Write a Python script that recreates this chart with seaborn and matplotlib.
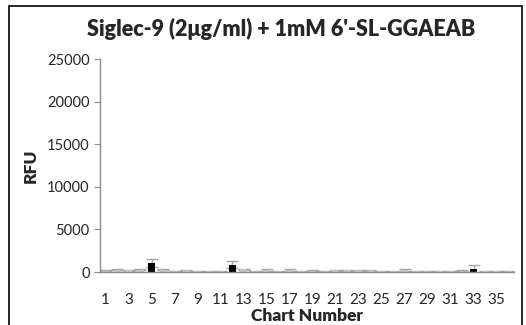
import matplotlib
matplotlib.use("Agg")
import matplotlib.pyplot as plt
import seaborn as sns
import pandas as pd
import numpy as np
from matplotlib.patches import Rectangle

chart_numbers = list(range(1, 37))
rfu = [150, 250, 200, 250, 1050, 250, 100, 200, 100, 100, 100, 850,
       300, 100, 200, 100, 250, 100, 150, 100, 200, 200, 200, 200,
       100, 100, 200, 100, 100, 100, 100, 150, 300, 100, 100, 100]
err = [60, 60, 60, 60, 500, 60, 40, 40, 40, 40, 40, 400,
       60, 40, 100, 40, 120, 40, 40, 40, 60, 60, 60, 60,
       40, 40, 120, 40, 40, 40, 40, 40, 500, 40, 40, 40]
highlight = [5, 12, 33]
tick_labels = [str(n) if n % 2 == 1 else "" for n in chart_numbers]

df = pd.DataFrame({
    "chart": [str(n) for n in chart_numbers],
    "rfu": rfu,
    "group": ["hi" if n in highlight else "lo" for n in chart_numbers],
})

sns.set_style("white")
plt.rcParams["font.family"] = ["Lato", "DejaVu Sans"]

fig = plt.figure(figsize=(5.26, 3.25), dpi=100)
ax = fig.add_axes([0.190, 0.163, 0.787, 0.655])

ax.errorbar(np.arange(len(rfu)), rfu, yerr=err, fmt="none",
            ecolor="#a6a6a6", elinewidth=1, capsize=4, capthick=1, zorder=1)
sns.barplot(data=df, x="chart", y="rfu", hue="group",
            palette={"hi": "#000000", "lo": "#c4c4c4"},
            dodge=False, width=0.6, legend=False, ax=ax, zorder=2,
            linewidth=0)

ax.set_ylim(0, 25000)
ax.set_xlim(-0.5, len(rfu) - 0.5)
ax.set_yticks([0, 5000, 10000, 15000, 20000, 25000])
ax.set_xticks(range(len(rfu)))
ax.set_xticklabels(tick_labels)
ax.set_xticks(np.arange(-0.5, len(rfu), 1.0), minor=True)
ax.tick_params(axis="x", which="major", length=0, labelsize=11, pad=15)
ax.tick_params(axis="x", which="minor", length=4, color="#8c8c8c", direction="out")
ax.tick_params(axis="y", length=4, color="#8c8c8c", labelsize=10.5, direction="out", left=True)
for s in ["top", "right"]:
    ax.spines[s].set_visible(False)
for s in ["left", "bottom"]:
    ax.spines[s].set_color("#8c8c8c")
    ax.spines[s].set_linewidth(1)

ax.set_xlabel("Chart Number", fontsize=12.5, fontweight="heavy", labelpad=1)
ax.set_ylabel("RFU", fontsize=12.5, fontweight="heavy", labelpad=6)
fig.suptitle("Siglec-9 (2μg/ml) + 1mM 6'-SL-GGAEAB", fontsize=15.5,
             fontweight="heavy", x=0.534, y=0.945)

fig.patches.append(Rectangle((9 / 526, -0.1), 513 / 526, 1.1 - 6 / 325,
                             transform=fig.transFigure, fill=False,
                             edgecolor="black", linewidth=1.2))

fig.savefig("out.png", dpi=100)
